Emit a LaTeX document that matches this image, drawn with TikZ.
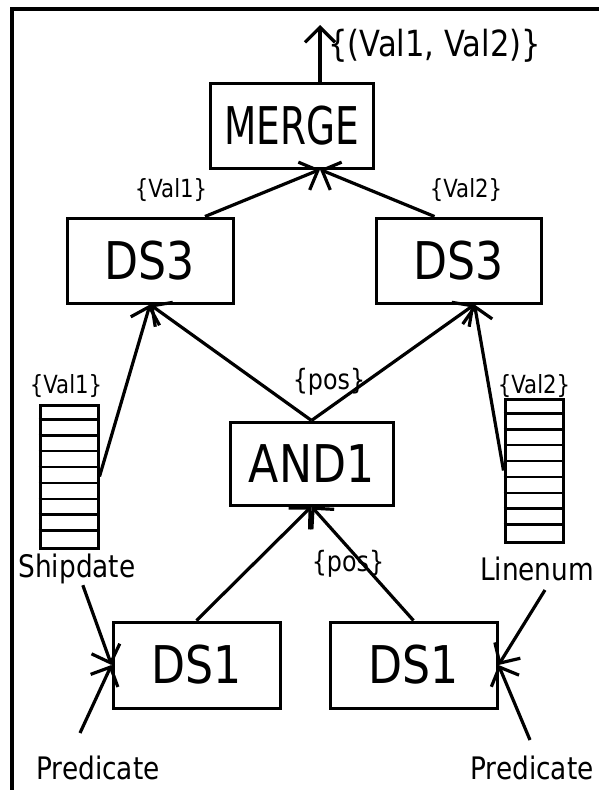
\documentclass[tikz,border=0pt]{standalone}
\usepackage{fontspec}
\setmainfont{DejaVu Sans}[FakeStretch=0.85]
\newfontfamily\narrowfont{DejaVu Sans}[FakeStretch=0.72]
\usetikzlibrary{arrows.meta,calc}
\begin{document}
\begin{tikzpicture}[x=1pt,y=-1pt,
  opbox/.style={draw,line width=3pt,inner sep=0pt,font=\fontsize{52}{52}\selectfont},
  colbox/.style={draw,line width=3pt,inner sep=0pt,minimum width=58pt,minimum height=143pt},
  setlab/.style={inner sep=1pt,font=\fontsize{25}{25}\selectfont},
  poslab/.style={inner sep=1pt,font=\fontsize{28}{28}\selectfont},
  fieldlab/.style={inner sep=1pt,font=\fontsize{31}{31}\selectfont},
  flow/.style={line width=3.2pt,-{Straight Barb[length=15pt,width=30pt,line width=3.2pt]}},
  cellline/.style={line width=2.6pt},
]
\useasboundingbox (0,0) rectangle (599,790);
% outer frame (top and left edges)
\draw[line width=3.5pt] (12,790) -- (12,9) -- (599,9);

% operators
\node[opbox,minimum width=163pt,minimum height=85pt,font=\fontsize{52}{52}\narrowfont] (merge) at (291.5,125.5) {MERGE};
\node[opbox,minimum width=166pt,minimum height=85pt] (ds3l) at (150,260.5) {DS3};
\node[opbox,minimum width=165pt,minimum height=85pt] (ds3r) at (458.5,260.5) {DS3};
\node[opbox,minimum width=163pt,minimum height=83pt] (and) at (311.5,463.5) {AND1};
\node[opbox,minimum width=167pt,minimum height=86pt] (ds1l) at (196.5,665) {DS1};
\node[opbox,minimum width=167pt,minimum height=86pt] (ds1r) at (413.5,665) {DS1};

% columns
\node[colbox] (coll) at (69,476.5) {};
\node[colbox] (colr) at (534,470.5) {};
\foreach \c in {coll,colr}
  \foreach \i in {1,...,8}
    \draw[cellline] ($(\c.north west)+(0,\i*15.89)$) -- ($(\c.north east)+(0,\i*15.89)$);

% labels
\node[fieldlab,anchor=west,font=\fontsize{36}{36}\selectfont] (res) at (327,46) {\{(Val1, Val2)\}};
\node[setlab] (v1) at (171,190) {\{Val1\}};
\node[setlab] (v2) at (466,190) {\{Val2\}};
\node[setlab] (cv1) at (66,386) {\{Val1\}};
\node[setlab] (cv2) at (534,386) {\{Val2\}};
\node[poslab] (pos1) at (329,382) {\{pos\}};
\node[poslab] (pos2) at (348,564) {\{pos\}};
\node[fieldlab] (ship) at (77,569) {Shipdate};
\node[fieldlab] (line) at (537,569) {Linenum};
\node[fieldlab] (predl) at (98,768) {Predicate};
\node[fieldlab] (predr) at (532,768) {Predicate};

% anchor points on the box borders
\coordinate (top) at (320,25);
\coordinate (min) at (merge.south -| top);
\coordinate (d3lin) at (ds3l.south);
\coordinate (d3rin) at ($(ds3r.south)+(16,0)$);
\coordinate (pl) at (80,733);
\coordinate (pr) at (530,740);
\coordinate (ls) at (545,590);

% data flow
\draw[flow] (merge.north -| top) -- (top);
\draw[flow] ($(ds3l.north)+(55,0)$) -- (min);
\draw[flow] ($(ds3r.north)+(-24,0)$) -- (min);
\draw[flow] (and.north) -- (d3lin);
\draw[flow] (and.north) -- (d3rin);
\draw[flow] (coll.east) -- (d3lin);
\draw[flow] (colr.west) -- (d3rin);
\draw[flow] (ds1l.north) -- (and.south);
\draw[flow] (ds1r.north) -- (and.south);
\draw[flow] (ship) -- (ds1l.west);
\draw[flow] (pl) -- (ds1l.west);
\draw[flow] (ls) -- (ds1r.east);
\draw[flow] (pr) -- (ds1r.east);
\end{tikzpicture}
\end{document}
